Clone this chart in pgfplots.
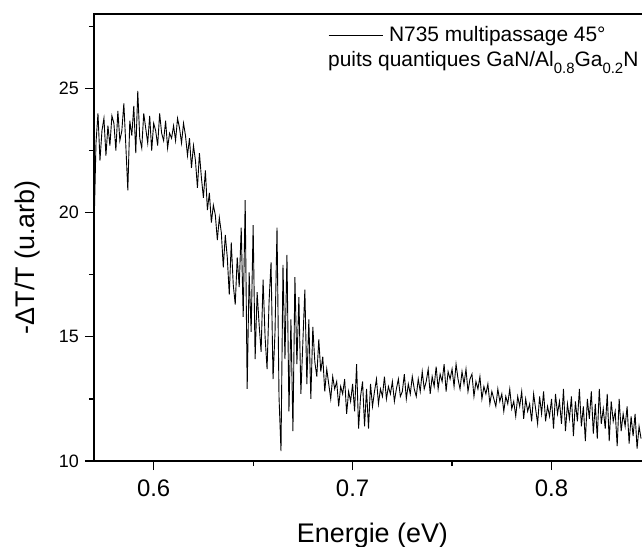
\documentclass[border=0pt]{standalone}
\usepackage{fontspec}
\setmainfont{Liberation Sans}
\usepackage{pgfplots}
\pgfplotsset{compat=1.18}
\begin{document}
\begin{tikzpicture}
\begin{axis}[
  at={(0bp,0bp)}, anchor=south west,
  scale only axis, width=557bp, height=447bp,
  xmin=0.57, xmax=0.85, ymin=10, ymax=28,
  xtick={0.6,0.7,0.8}, xticklabels={0.6,0.7,0.8},
  ytick={10,15,20,25}, yticklabels={10,15,20,25},
  minor xtick={0.65,0.75}, minor ytick={12.5,17.5,22.5,27.5},
  xtick pos=bottom, ytick pos=left, tick align=outside,
  major tick length=9bp, minor tick length=5bp,
  axis line style={line width=1.2bp},
  every tick/.style={black, line width=1.2bp},
  /pgf/number format/assume math mode=true,
  xticklabel style={font=\fontsize{24}{24}\selectfont, inner sep=0pt, anchor=north, yshift=-10bp},
  yticklabel style={font=\fontsize{18}{18}\selectfont, inner sep=0pt, anchor=east, xshift=-6bp},
  xlabel={Energie (eV)},
  ylabel={-ΔT/T (u.arb)},
  xlabel style={font=\fontsize{27}{27}\selectfont, at={(axis description cs:0.5,0)}, anchor=base, yshift=-81bp, inner sep=0pt},
  ylabel style={font=\fontsize{27}{27}\selectfont, at={(axis description cs:-0.1185,0.456)}, anchor=center, inner sep=0pt},
  legend style={draw=none, fill=none, inner sep=0pt, at={(axis description cs:0.4201,0.953)}, anchor=west, font=\fontsize{21}{21}\selectfont, nodes={inner sep=0pt}, column sep=6bp},
  legend image code/.code={\draw[#1] (0bp,0bp) -- (54bp,0bp);},
  legend cell align=left,
]
\addplot[black, line width=0.9bp, sharp plot] coordinates {
(0.570,19.3) (0.571,22.8) (0.572,24.0) (0.573,22.1) (0.574,23.3) (0.575,23.8) (0.576,22.3) (0.577,23.5) (0.578,22.7) (0.579,23.9)
(0.580,23.6) (0.581,22.5) (0.582,24.1) (0.583,22.9) (0.584,23.3) (0.585,24.4) (0.586,22.7) (0.587,20.9) (0.588,23.7) (0.589,23.1)
(0.590,24.3) (0.591,22.4) (0.592,24.9) (0.593,23.0) (0.594,22.6) (0.595,24.0) (0.596,23.4) (0.597,22.8) (0.598,23.9) (0.599,22.5)
(0.600,23.6) (0.601,23.3) (0.602,22.7) (0.603,24.0) (0.604,23.2) (0.605,22.9) (0.606,23.7) (0.607,22.6) (0.608,23.2) (0.609,23.0)
(0.610,23.5) (0.611,22.9) (0.612,23.8) (0.613,23.4) (0.614,22.8) (0.615,23.6) (0.616,23.1) (0.617,22.3) (0.618,23.0) (0.619,21.8)
(0.620,22.7) (0.621,22.1) (0.622,21.0) (0.623,22.4) (0.624,21.4) (0.625,20.6) (0.626,21.7) (0.627,20.1) (0.628,20.8) (0.629,19.6)
(0.630,20.3) (0.631,19.9) (0.632,18.9) (0.633,19.8) (0.634,19.2) (0.635,17.8) (0.636,19.1) (0.637,18.2) (0.638,16.7) (0.639,18.8)
(0.640,17.1) (0.641,16.3) (0.642,18.2) (0.643,17.0) (0.644,19.4) (0.645,15.8) (0.646,20.5) (0.647,12.9) (0.648,17.6) (0.649,15.2)
(0.650,19.5) (0.651,14.1) (0.652,16.8) (0.653,15.5) (0.654,14.4) (0.655,17.3) (0.656,15.0) (0.657,13.7) (0.658,16.4) (0.659,18.0)
(0.660,13.3) (0.661,15.2) (0.662,19.4) (0.663,12.6) (0.664,10.4) (0.665,17.9) (0.666,14.1) (0.667,18.3) (0.668,12.0) (0.669,15.7)
(0.670,11.2) (0.671,17.4) (0.672,13.9) (0.673,16.6) (0.674,12.7) (0.675,14.8) (0.676,16.9) (0.677,13.1) (0.678,15.7) (0.679,12.5)
(0.680,15.4) (0.681,14.0) (0.682,13.4) (0.683,14.9) (0.684,13.6) (0.685,14.2) (0.686,12.8) (0.687,13.7) (0.688,13.1) (0.689,12.5)
(0.690,13.4) (0.691,12.9) (0.692,13.2) (0.693,12.2) (0.694,13.0) (0.695,12.7) (0.696,13.3) (0.697,11.9) (0.698,12.8) (0.699,12.4)
(0.700,13.1) (0.701,12.0) (0.702,13.9) (0.703,11.3) (0.704,12.6) (0.705,13.2) (0.706,11.4) (0.707,12.9) (0.708,11.3) (0.709,13.1)
(0.710,12.2) (0.711,12.8) (0.712,13.3) (0.713,12.3) (0.714,12.9) (0.715,12.6) (0.716,13.4) (0.717,12.5) (0.718,13.0) (0.719,12.7)
(0.720,13.2) (0.721,12.4) (0.722,12.9) (0.723,13.3) (0.724,12.6) (0.725,12.8) (0.726,13.5) (0.727,12.5) (0.728,13.1) (0.729,12.7)
(0.730,13.4) (0.731,12.9) (0.732,12.6) (0.733,13.3) (0.734,12.8) (0.735,13.6) (0.736,12.9) (0.737,13.2) (0.738,13.7) (0.739,12.7)
(0.740,13.4) (0.741,13.0) (0.742,13.8) (0.743,12.9) (0.744,13.5) (0.745,13.2) (0.746,13.9) (0.747,12.8) (0.748,13.6) (0.749,13.3)
(0.750,13.7) (0.751,13.0) (0.752,13.9) (0.753,13.3) (0.754,12.9) (0.755,13.6) (0.756,13.1) (0.757,13.7) (0.758,12.8) (0.759,13.3)
(0.760,13.5) (0.761,12.6) (0.762,13.2) (0.763,12.9) (0.764,13.4) (0.765,12.5) (0.766,13.0) (0.767,12.7) (0.768,13.1) (0.769,12.3)
(0.770,12.8) (0.771,12.5) (0.772,12.2) (0.773,12.9) (0.774,12.4) (0.775,12.7) (0.776,12.0) (0.777,12.6) (0.778,12.3) (0.779,12.9)
(0.780,12.1) (0.781,12.4) (0.782,11.8) (0.783,12.6) (0.784,12.2) (0.785,12.8) (0.786,11.7) (0.787,12.5) (0.788,12.0) (0.789,12.3)
(0.790,11.6) (0.791,12.7) (0.792,12.1) (0.793,11.5) (0.794,12.6) (0.795,11.9) (0.796,12.8) (0.797,11.6) (0.798,12.2) (0.799,11.8)
(0.800,12.5) (0.801,11.3) (0.802,12.7) (0.803,11.9) (0.804,12.4) (0.805,11.5) (0.806,12.9) (0.807,11.2) (0.808,12.3) (0.809,11.7)
(0.810,12.6) (0.811,11.0) (0.812,12.4) (0.813,11.6) (0.814,12.9) (0.815,11.4) (0.816,12.2) (0.817,10.8) (0.818,12.5) (0.819,11.7)
(0.820,12.8) (0.821,11.1) (0.822,12.3) (0.823,10.9) (0.824,12.9) (0.825,11.5) (0.826,12.1) (0.827,11.3) (0.828,12.7) (0.829,10.8)
(0.830,12.4) (0.831,11.6) (0.832,12.0) (0.833,10.6) (0.834,12.5) (0.835,11.2) (0.836,11.9) (0.837,11.4) (0.838,12.2) (0.839,10.7)
(0.840,11.8) (0.841,11.0) (0.842,11.9) (0.843,10.5) (0.844,11.4) (0.845,10.9)
};
\addlegendentry{N735 multipassage 45°}
\end{axis}
\node[anchor=base west, inner sep=0pt, font=\fontsize{21}{21}\selectfont] at (234bp,394bp)
  {puits quantiques GaN/Al\raisebox{-7bp}{\fontsize{15}{15}\selectfont 0.8}Ga\raisebox{-7bp}{\fontsize{15}{15}\selectfont 0.2}N};
\pgfresetboundingbox
\path[use as bounding box] (-94bp,-86bp) rectangle (548bp,461bp);
\end{tikzpicture}
\end{document}
